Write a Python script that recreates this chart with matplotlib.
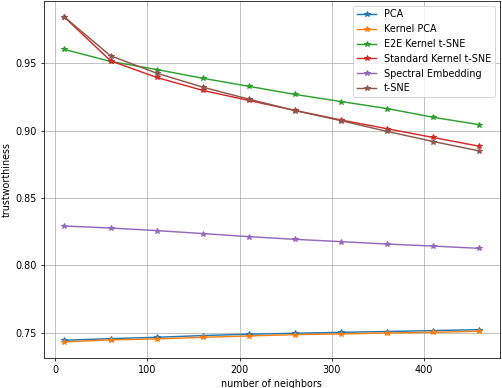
import numpy as np
import matplotlib
matplotlib.use("Agg")
import matplotlib.pyplot as plt

# number of neighbors
neighbors = [10, 60, 110, 160, 210, 260, 310, 360, 410, 460]

# trustworthiness per method
pca = [0.7443, 0.7455, 0.7465, 0.7478, 0.7488, 0.7495, 0.7502, 0.7508, 0.7515, 0.7522]
kernel_pca = [0.7431, 0.7446, 0.7453, 0.7465, 0.7475, 0.7485, 0.7490, 0.7497, 0.7502, 0.7510]
e2e_kernel_tsne = [0.9604, 0.9515, 0.9455, 0.9390, 0.9330, 0.9270, 0.9217, 0.9165, 0.9100, 0.9045]
std_kernel_tsne = [0.9844, 0.9520, 0.9396, 0.9300, 0.9225, 0.9151, 0.9080, 0.9015, 0.8950, 0.8885]
spectral = [0.8292, 0.8277, 0.8258, 0.8236, 0.8213, 0.8193, 0.8176, 0.8158, 0.8143, 0.8126]
tsne = [0.9845, 0.9557, 0.9428, 0.9324, 0.9235, 0.9150, 0.9075, 0.8995, 0.8920, 0.8850]

labels = ["PCA", "Kernel PCA", "E2E Kernel t-SNE", "Standard Kernel t-SNE",
          "Spectral Embedding", "t-SNE"]
series = [pca, kernel_pca, e2e_kernel_tsne, std_kernel_tsne, spectral, tsne]

dpi = 69
fig, ax = plt.subplots(figsize=(502 / dpi, 388 / dpi), dpi=dpi)
for vals, lab in zip(series, labels):
    ax.plot(neighbors, vals, marker="*", label=lab)

ax.set_xlabel("number of neighbors")
ax.set_ylabel("trustworthiness")
ax.grid(True)
ax.legend(loc="upper right")
fig.subplots_adjust(left=0.087, right=0.996, top=0.998, bottom=0.077)
fig.savefig("out.png", dpi=dpi)
